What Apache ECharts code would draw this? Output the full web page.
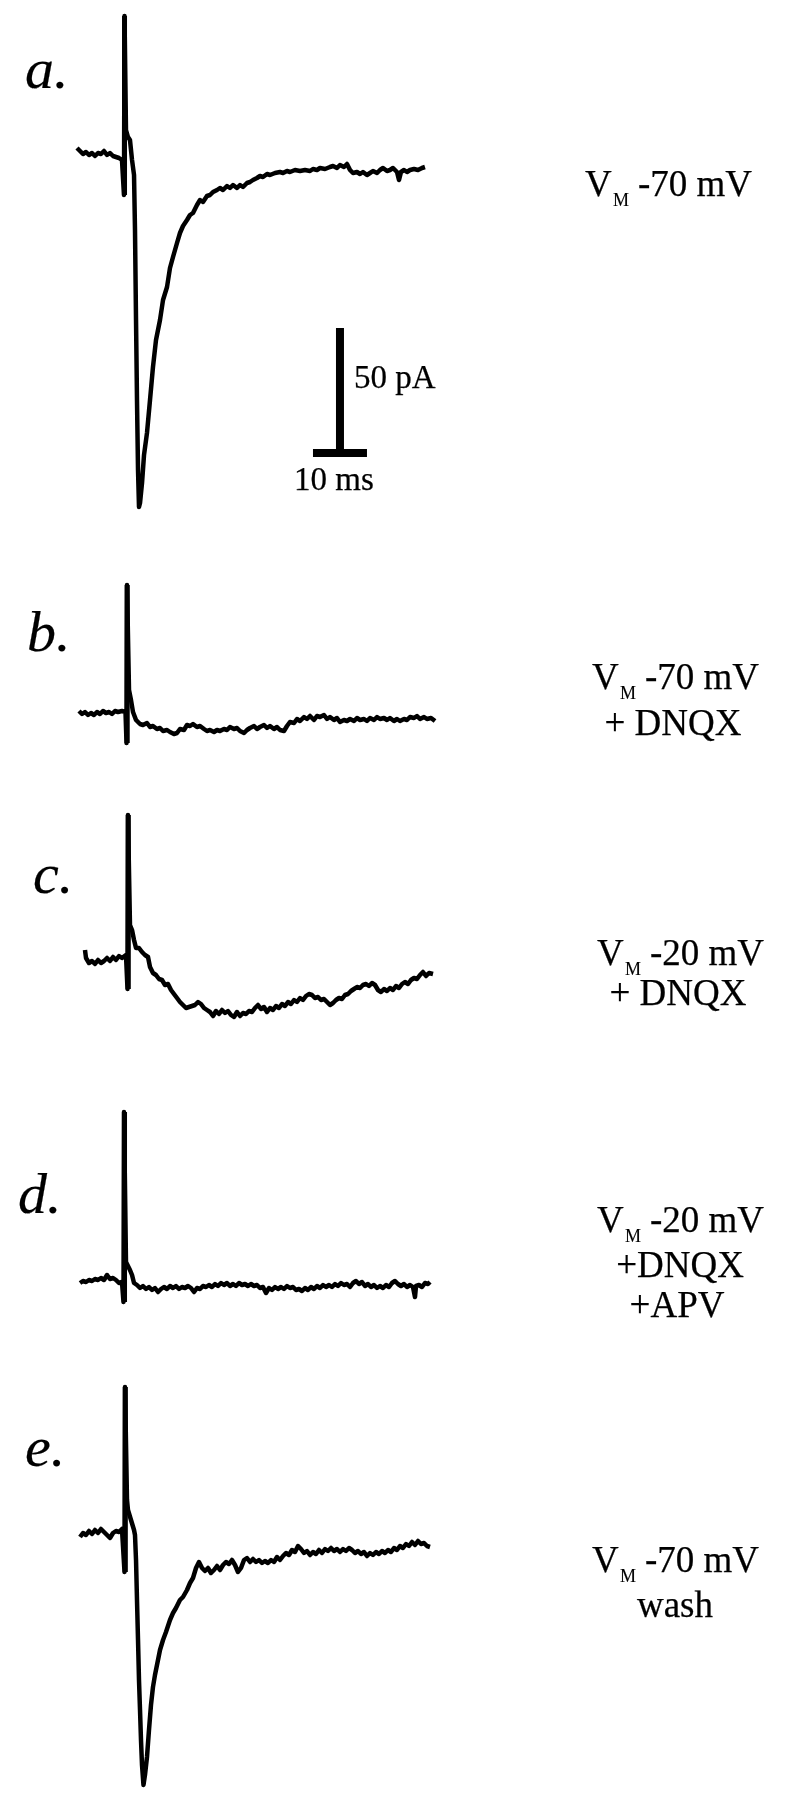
<!DOCTYPE html>
<html lang="en">
<head>
<meta charset="utf-8">
<title>EPSC traces</title>
<script src="https://cdn.jsdelivr.net/npm/echarts@6/dist/echarts.min.js"></script>
<style>
  html, body { margin: 0; padding: 0; background: #fff; }
  #chart { width: 788px; height: 1800px; }
</style>
</head>
<body>
<div id="chart"></div>
<script>
// time (ms), current (pA); baseline = 0 pA
var traceA = [[0,2.0],[0.56,0.8],[1.11,-0.4],[1.67,0.4],[2.22,-0.8],[2.78,0],[3.33,-1.2],[3.89,0],[4.44,-0.4],[5.0,0.8],[5.56,-0.8],[6.11,0],[6.67,-1.2],[7.22,-1.6],[7.78,-2.0],[8.33,-2.8],[8.61,-2.4],
  [8.70,-16.8],[8.80,54.8],[8.98,54.8],[9.07,9.2],[9.44,6.4],[9.81,5.2],[10.19,-2.8],[10.56,-8.8],[10.74,-30.8],[10.93,-66.8],[11.11,-98.8],[11.30,-126.8],[11.48,-141.6],[11.67,-140],[12.04,-132],[12.41,-120.8],[12.96,-112],[13.52,-98.8],[14.07,-85.6],[14.63,-74.8],[15.37,-66.8],[15.93,-58.8],[16.67,-53.6],[17.22,-46],[17.78,-41.6],[18.52,-36],[19.07,-32],[19.63,-29.2],[20.37,-26.8],[20.93,-24.8],[21.48,-24],[22.22,-20.8],[22.78,-18.8],[23.33,-19.6],[24.07,-17.2],[24.63,-16.8],[25.19,-15.6],[25.93,-14.8],[26.48,-14],[27.04,-14.8],[27.78,-13.2],[28.33,-14],[28.89,-12.8],[29.63,-14],[30.19,-12.8],[30.74,-13.6],[31.48,-12],[32.04,-11.6],[32.59,-10.8],[33.33,-10],[33.89,-9.2],[34.44,-9.6],[35.19,-8.4],[35.74,-8.8],[36.67,-8],[37.59,-7.6],[38.15,-8],[38.89,-7.2],[39.44,-7.6],[40.37,-6.8],[41.30,-7.2],[42.22,-6.8],[43.15,-7.2],[43.7,-6.4],[44.44,-6.8],[45,-6],[45.93,-6.4],[46.85,-5.6],[47.41,-5.2],[48.15,-6],[48.7,-4.8],[49.44,-5.6],[50.0,-4.4],[50.56,-6.8],[51.11,-8],[51.85,-7.6],[52.41,-8.4],[52.96,-7.6],[53.70,-8.8],[54.26,-8],[54.81,-7.2],[55.56,-8],[56.11,-6.8],[56.67,-6],[57.41,-7.2],[57.96,-6.8],[58.52,-6],[59.26,-7.6],[59.63,-10.8],[60,-7.6],[60.56,-6.8],[61.11,-7.6],[61.67,-6.8],[62.41,-6.4],[63.15,-6.8],[63.89,-6],[64.44,-5.6]];

var traceB = [[0.37,0.8],[0.93,-0.4],[1.48,0.4],[2.04,-0.8],[2.59,0],[3.15,-0.8],[3.70,0.4],[4.26,-0.4],[4.81,0.8],[5.37,0],[5.93,0.4],[6.48,-0.4],[7.04,0.8],[7.59,0.4],[8.33,0.8],[8.98,0.4],
  [9.17,-12],[9.26,51.2],[9.44,51.2],[9.63,9.2],[10,5.2],[10.37,0.4],[10.93,-2.8],[11.67,-4.4],[12.22,-4.8],[12.96,-4],[13.52,-5.6],[14.07,-5.2],[14.81,-6.4],[15.37,-6],[15.93,-7.2],[16.67,-6.8],[17.22,-7.6],[17.96,-8.4],[18.52,-8],[19.07,-6.4],[19.81,-6.8],[20.37,-4.8],[20.93,-5.2],[21.48,-4.4],[22.22,-5.6],[22.78,-5.2],[23.52,-6.4],[24.07,-7.2],[24.63,-6.8],[25.37,-7.6],[25.93,-6.8],[26.48,-7.2],[27.22,-6.4],[27.78,-6.8],[28.33,-5.6],[29.07,-6.4],[29.63,-6],[30.19,-7.2],[30.93,-8],[31.48,-6.8],[32.04,-6],[32.78,-5.2],[33.33,-6.4],[33.89,-5.6],[34.63,-4.8],[35.19,-6],[35.74,-5.2],[36.48,-6.4],[37.04,-5.6],[37.59,-6.8],[38.33,-7.2],[38.89,-5.2],[39.44,-3.6],[40.19,-4],[40.74,-2.4],[41.30,-3.2],[42.04,-1.6],[42.59,-2.4],[43.15,-1.2],[43.89,-2.8],[44.44,-1.2],[45,-1.6],[45.74,-0.8],[46.30,-2.4],[46.85,-1.6],[47.59,-2.8],[48.15,-2],[48.70,-3.6],[49.44,-2.8],[50,-3.2],[50.56,-2.4],[51.30,-3.2],[51.85,-2],[52.41,-2.8],[53.15,-2.4],[53.70,-3.2],[54.26,-2],[55,-2.8],[55.56,-1.6],[56.11,-2.4],[56.85,-2],[57.41,-2.8],[57.96,-2],[58.70,-3.2],[59.26,-2.4],[59.81,-3.2],[60.56,-2.4],[61.11,-2.8],[61.67,-1.6],[62.41,-2],[62.96,-1.2],[63.52,-2.4],[64.26,-1.6],[64.81,-2.4],[65.56,-2],[66.30,-3.2]];

var traceC = [[1.48,4],[1.67,0.8],[2.22,-1.2],[2.78,-0.4],[3.33,-1.6],[3.89,0],[4.44,-1.2],[5,-0.4],[5.56,0.8],[6.11,-0.4],[6.67,1.2],[7.22,0],[7.78,1.6],[8.33,0.8],[9.07,2],
  [9.35,-11.6],[9.44,58],[9.63,58],[9.81,14],[10.19,12],[10.56,8],[10.93,4.8],[11.48,4.8],[12.04,3.2],[12.59,2],[13.15,1.2],[13.52,-2.8],[14.07,-5.2],[14.63,-6],[15.19,-7.6],[15.74,-8],[16.30,-10],[16.85,-9.6],[17.41,-12],[17.96,-13.6],[18.52,-15.2],[19.07,-16.8],[19.63,-18],[20.19,-19.2],[20.74,-18.8],[21.30,-18.4],[21.85,-18],[22.41,-16.8],[22.96,-17.6],[23.52,-19.2],[24.07,-20],[24.63,-20.8],[25.19,-22.4],[25.74,-20.4],[26.30,-21.6],[26.85,-20],[27.41,-21.2],[27.96,-20.4],[28.52,-22],[29.07,-22.8],[29.63,-20.8],[30.19,-22.4],[30.74,-21.2],[31.30,-21.6],[31.85,-20.4],[32.41,-20.8],[32.96,-19.2],[33.52,-18],[34.07,-19.6],[34.63,-18.8],[35.19,-20.8],[35.74,-19.2],[36.30,-20],[36.85,-18.4],[37.41,-19.2],[37.96,-17.6],[38.52,-18.4],[39.07,-16.8],[39.63,-17.6],[40.19,-16],[40.74,-16.8],[41.30,-15.2],[41.85,-16],[42.41,-14.4],[42.96,-13.6],[43.52,-14],[44.07,-15.2],[44.63,-14.8],[45.19,-16],[45.74,-15.6],[46.30,-16.8],[46.85,-18],[47.41,-17.2],[47.96,-16],[48.52,-15.2],[49.07,-15.6],[49.63,-14],[50.19,-13.6],[50.74,-12.4],[51.30,-11.6],[51.85,-10.8],[52.41,-11.2],[52.96,-10],[53.52,-9.6],[54.07,-10.4],[54.63,-9.2],[55.19,-10],[55.74,-12],[56.30,-12.8],[56.85,-11.6],[57.41,-12.4],[57.96,-11.2],[58.52,-12],[59.07,-10.4],[59.63,-11.2],[60.19,-9.6],[60.74,-8.8],[61.30,-9.6],[61.85,-8],[62.41,-7.2],[62.96,-7.6],[63.52,-6],[64.07,-4.8],[64.63,-6.4],[65.19,-5.2],[65.93,-5.6]];

var traceD = [[0.56,-0.8],[1.11,0],[1.67,-0.4],[2.22,0.4],[2.78,0],[3.33,0.8],[3.89,0.4],[4.44,1.2],[5,0.4],[5.56,2.4],[6.11,0.8],[6.67,1.2],[7.22,0.4],[7.78,-0.8],[8.33,-0.4],
  [8.61,-8.4],[8.70,67.6],[8.89,67.6],[9.07,7.6],[9.44,6],[9.81,4.4],[10.19,2.4],[10.56,-0.8],[11.11,-1.6],[11.67,-2.8],[12.22,-2],[12.78,-3.2],[13.33,-2.4],[13.89,-3.6],[14.44,-2.8],[15,-4.4],[15.56,-3.2],[16.11,-2.4],[16.67,-3.2],[17.22,-2],[17.78,-2.8],[18.33,-2],[18.89,-3.2],[19.44,-2.4],[20,-2.8],[20.56,-2],[21.11,-2.8],[21.67,-4.4],[22.22,-2.8],[22.78,-3.2],[23.33,-2],[23.89,-2.4],[24.44,-1.6],[25,-2.4],[25.56,-1.2],[26.11,-2],[26.67,-0.8],[27.22,-1.6],[27.78,-0.8],[28.33,-2],[28.89,-1.2],[29.44,-2],[30,-0.8],[30.56,-1.6],[31.11,-1.2],[31.67,-2],[32.22,-1.2],[32.78,-2],[33.33,-1.6],[33.89,-2.8],[34.44,-2.4],[35,-4.8],[35.56,-2.8],[36.11,-3.6],[36.67,-2.4],[37.22,-3.2],[37.78,-2.4],[38.33,-3.2],[38.89,-2],[39.44,-2.8],[40,-2.4],[40.56,-3.6],[41.11,-3.2],[41.67,-4],[42.22,-2.8],[42.78,-3.6],[43.33,-2.4],[43.89,-3.2],[44.44,-2],[45,-2.8],[45.56,-1.6],[46.11,-2.4],[46.67,-1.6],[47.22,-2.4],[47.78,-1.2],[48.33,-2],[48.89,-0.8],[49.44,-1.6],[50,-1.2],[50.56,-2.4],[51.11,-0.8],[51.67,0],[52.22,-1.2],[52.78,-0.4],[53.33,-2],[53.89,-1.2],[54.44,-2.4],[55,-1.6],[55.56,-2.8],[56.11,-2],[56.67,-2.8],[57.22,-1.6],[57.78,-2.4],[58.33,-0.8],[58.89,0],[59.44,-1.2],[60,-2],[60.56,-1.2],[61.11,-2.4],[61.67,-1.6],[62.22,-2.4],[62.59,-6.4],[62.78,-2],[63.33,-1.6],[63.89,-2.4],[64.44,-0.8],[65,-1.2],[65.37,-0.4]];

var traceE = [[0.56,-1.6],[1.11,0],[1.67,-0.8],[2.22,0.8],[2.78,-0.4],[3.33,1.2],[3.89,0],[4.44,1.6],[5,0.4],[5.56,-0.8],[6.11,-2],[6.67,0],[7.22,0.8],[7.78,0.4],[8.33,1.6],[8.70,1.2],
  [8.80,-15.6],[8.89,58.4],[9.07,58.4],[9.26,13.2],[9.44,9.2],[10,5.2],[10.56,1.2],[10.74,-0.8],[10.93,-10.8],[11.11,-26.8],[11.30,-42.8],[11.48,-58.8],[11.67,-70.8],[11.85,-82.8],[12.04,-92.8],[12.31,-100.8],[12.59,-96.8],[12.96,-89.6],[13.33,-78.8],[13.70,-68.8],[14.07,-61.6],[14.44,-56.8],[15,-50.8],[15.37,-46.8],[15.93,-42.8],[16.48,-39.6],[17.22,-34.8],[17.78,-32],[18.33,-30],[19.07,-26.8],[19.63,-25.6],[20.37,-22.8],[20.93,-20],[21.48,-18],[22.04,-14],[22.59,-11.6],[23.15,-14],[23.70,-15.2],[24.26,-14],[24.81,-16],[25.37,-14.8],[25.93,-13.2],[26.48,-14.8],[27.04,-12.8],[27.59,-11.6],[28.15,-12.4],[28.70,-10.8],[29.26,-12.8],[29.81,-15.6],[30.37,-14],[30.93,-10.8],[31.48,-10],[32.04,-11.6],[32.59,-10.4],[33.15,-11.6],[33.70,-10.8],[34.26,-12],[34.81,-11.2],[35.37,-12],[35.93,-10.8],[36.48,-11.6],[37.04,-9.6],[37.59,-10.8],[38.15,-9.2],[38.70,-8],[39.26,-8.8],[39.81,-6.8],[40.37,-7.6],[40.93,-5.2],[41.48,-6.4],[42.04,-8],[42.59,-7.2],[43.15,-8.8],[43.70,-7.6],[44.26,-8.4],[44.81,-6.8],[45.37,-8],[45.93,-6.4],[46.48,-7.2],[47.04,-6],[47.59,-7.2],[48.15,-6.4],[48.70,-7.6],[49.26,-6.4],[49.81,-7.2],[50.37,-6],[50.93,-6.8],[51.48,-8],[52.04,-7.2],[52.59,-8.4],[53.15,-7.6],[53.70,-9.2],[54.26,-8],[54.81,-8.8],[55.37,-7.6],[55.93,-8.4],[56.48,-7.2],[57.04,-8],[57.59,-6.8],[58.15,-7.6],[58.70,-6],[59.26,-6.8],[59.81,-5.2],[60.37,-6],[60.93,-4.4],[61.48,-5.2],[62.04,-3.6],[62.59,-4.8],[63.15,-3.2],[63.70,-4.4],[64.26,-4],[64.81,-5.2],[65.37,-5.6]];

// stimulus artifacts: [time, bottom, top]
var artifacts = [[8.8, -16.8, 54.8], [9.3, -12, 51.2], [9.5, -11.6, 58], [8.8, -8.4, 67.6], [8.95, -15.6, 58.4]];

// scale bar in panel a: 50 pA / 10 ms
var scaleV = [[48.7,-70],[48.7,-120]];
var scaleH = [[43.7,-120],[53.7,-120]];

var traces = [traceA, traceB, traceC, traceD, traceE];
var panelNames = ['a.', 'b.', 'c.', 'd.', 'e.'];
var yMin = [-150, -20, -30, -20, -105];
var yMax = [60, 60, 60, 70, 60];
// 标注（第一行 V_M 电压, 其余行）
var vmText = ['-70 mV', '-70 mV', '-20 mV', '-20 mV', '-70 mV'];
var extraLines = [[], ['+ DNQX'], ['+ DNQX'], ['+DNQX', '+APV'], ['wash']];

// 像素比例: 5.4 px/ms, 2.5 px/pA
var pxPerMs = 5.4, pxPerPa = 2.5, tMax = 67;
var gridTop = [3, 563, 810, 1106, 1383];
var panelLabelPos = [[25, 92], [27, 655], [33, 897], [18, 1217], [25, 1470]];
var vmPos = [[585, 199], [592, 692], [597, 968], [597, 1235], [592, 1575]];
var extraPos = [[], [[673, 738]], [[678, 1008]], [[680, 1280], [677, 1320]], [[675, 1620]]];

var serif = '"Liberation Serif", "Times New Roman", serif';
var chart = echarts.init(document.getElementById('chart'));

function txt(x, baseline, text, size, extra) {
  var st = { x: x, y: baseline - 0.34 * size, text: text, font: size + 'px ' + serif,
    fill: '#000', stroke: '#000', lineWidth: 0.25, verticalAlign: 'middle' };
  for (var key in extra) st[key] = extra[key];
  return { type: 'text', style: st };
}

var grids = [], xAxes = [], yAxes = [], series = [], graphics = [];
for (var i = 0; i < traces.length; i++) {
  grids.push({ left: 77, top: gridTop[i], width: tMax * pxPerMs, height: (yMax[i] - yMin[i]) * pxPerPa });
  xAxes.push({ type: 'value', gridIndex: i, min: 0, max: tMax, show: false });
  yAxes.push({ type: 'value', gridIndex: i, min: yMin[i], max: yMax[i], show: false });
  series.push({
    type: 'line', xAxisIndex: i, yAxisIndex: i, data: traces[i],
    showSymbol: false, symbol: 'none', smooth: false,
    lineStyle: { color: '#000', width: 4.5, join: 'round' }
  });
  series.push({
    type: 'line', xAxisIndex: i, yAxisIndex: i, symbol: 'none',
    data: [[artifacts[i][0], artifacts[i][1]], [artifacts[i][0], artifacts[i][2]]],
    lineStyle: { color: '#000', width: 5, cap: 'butt' }
  });

  var fs = 37;
  graphics.push(txt(panelLabelPos[i][0], panelLabelPos[i][1], panelNames[i], 58, { font: 'italic 58px ' + serif, lineWidth: 0.2 }));
  graphics.push(txt(vmPos[i][0], vmPos[i][1], 'V', fs));
  graphics.push(txt(vmPos[i][0] + 28, vmPos[i][1] + 8, 'M', 18, { lineWidth: 0.15 }));
  graphics.push(txt(vmPos[i][0] + 53, vmPos[i][1], vmText[i], fs));
  for (var k = 0; k < extraLines[i].length; k++) {
    graphics.push(txt(extraPos[i][k][0], extraPos[i][k][1], extraLines[i][k], fs, { align: 'center' }));
  }
}

// 比例尺
series.push({ type: 'line', xAxisIndex: 0, yAxisIndex: 0, data: scaleV, symbol: 'none', lineStyle: { color: '#000', width: 8, cap: 'butt' } });
series.push({ type: 'line', xAxisIndex: 0, yAxisIndex: 0, data: scaleH, symbol: 'none', lineStyle: { color: '#000', width: 8, cap: 'butt' } });
graphics.push(txt(354, 391, '50 pA', 33));
graphics.push(txt(334, 493, '10 ms', 33, { align: 'center' }));

chart.setOption({
  backgroundColor: '#fff',
  animation: false,
  grid: grids,
  xAxis: xAxes,
  yAxis: yAxes,
  series: series,
  graphic: graphics
});
</script>
</body>
</html>
